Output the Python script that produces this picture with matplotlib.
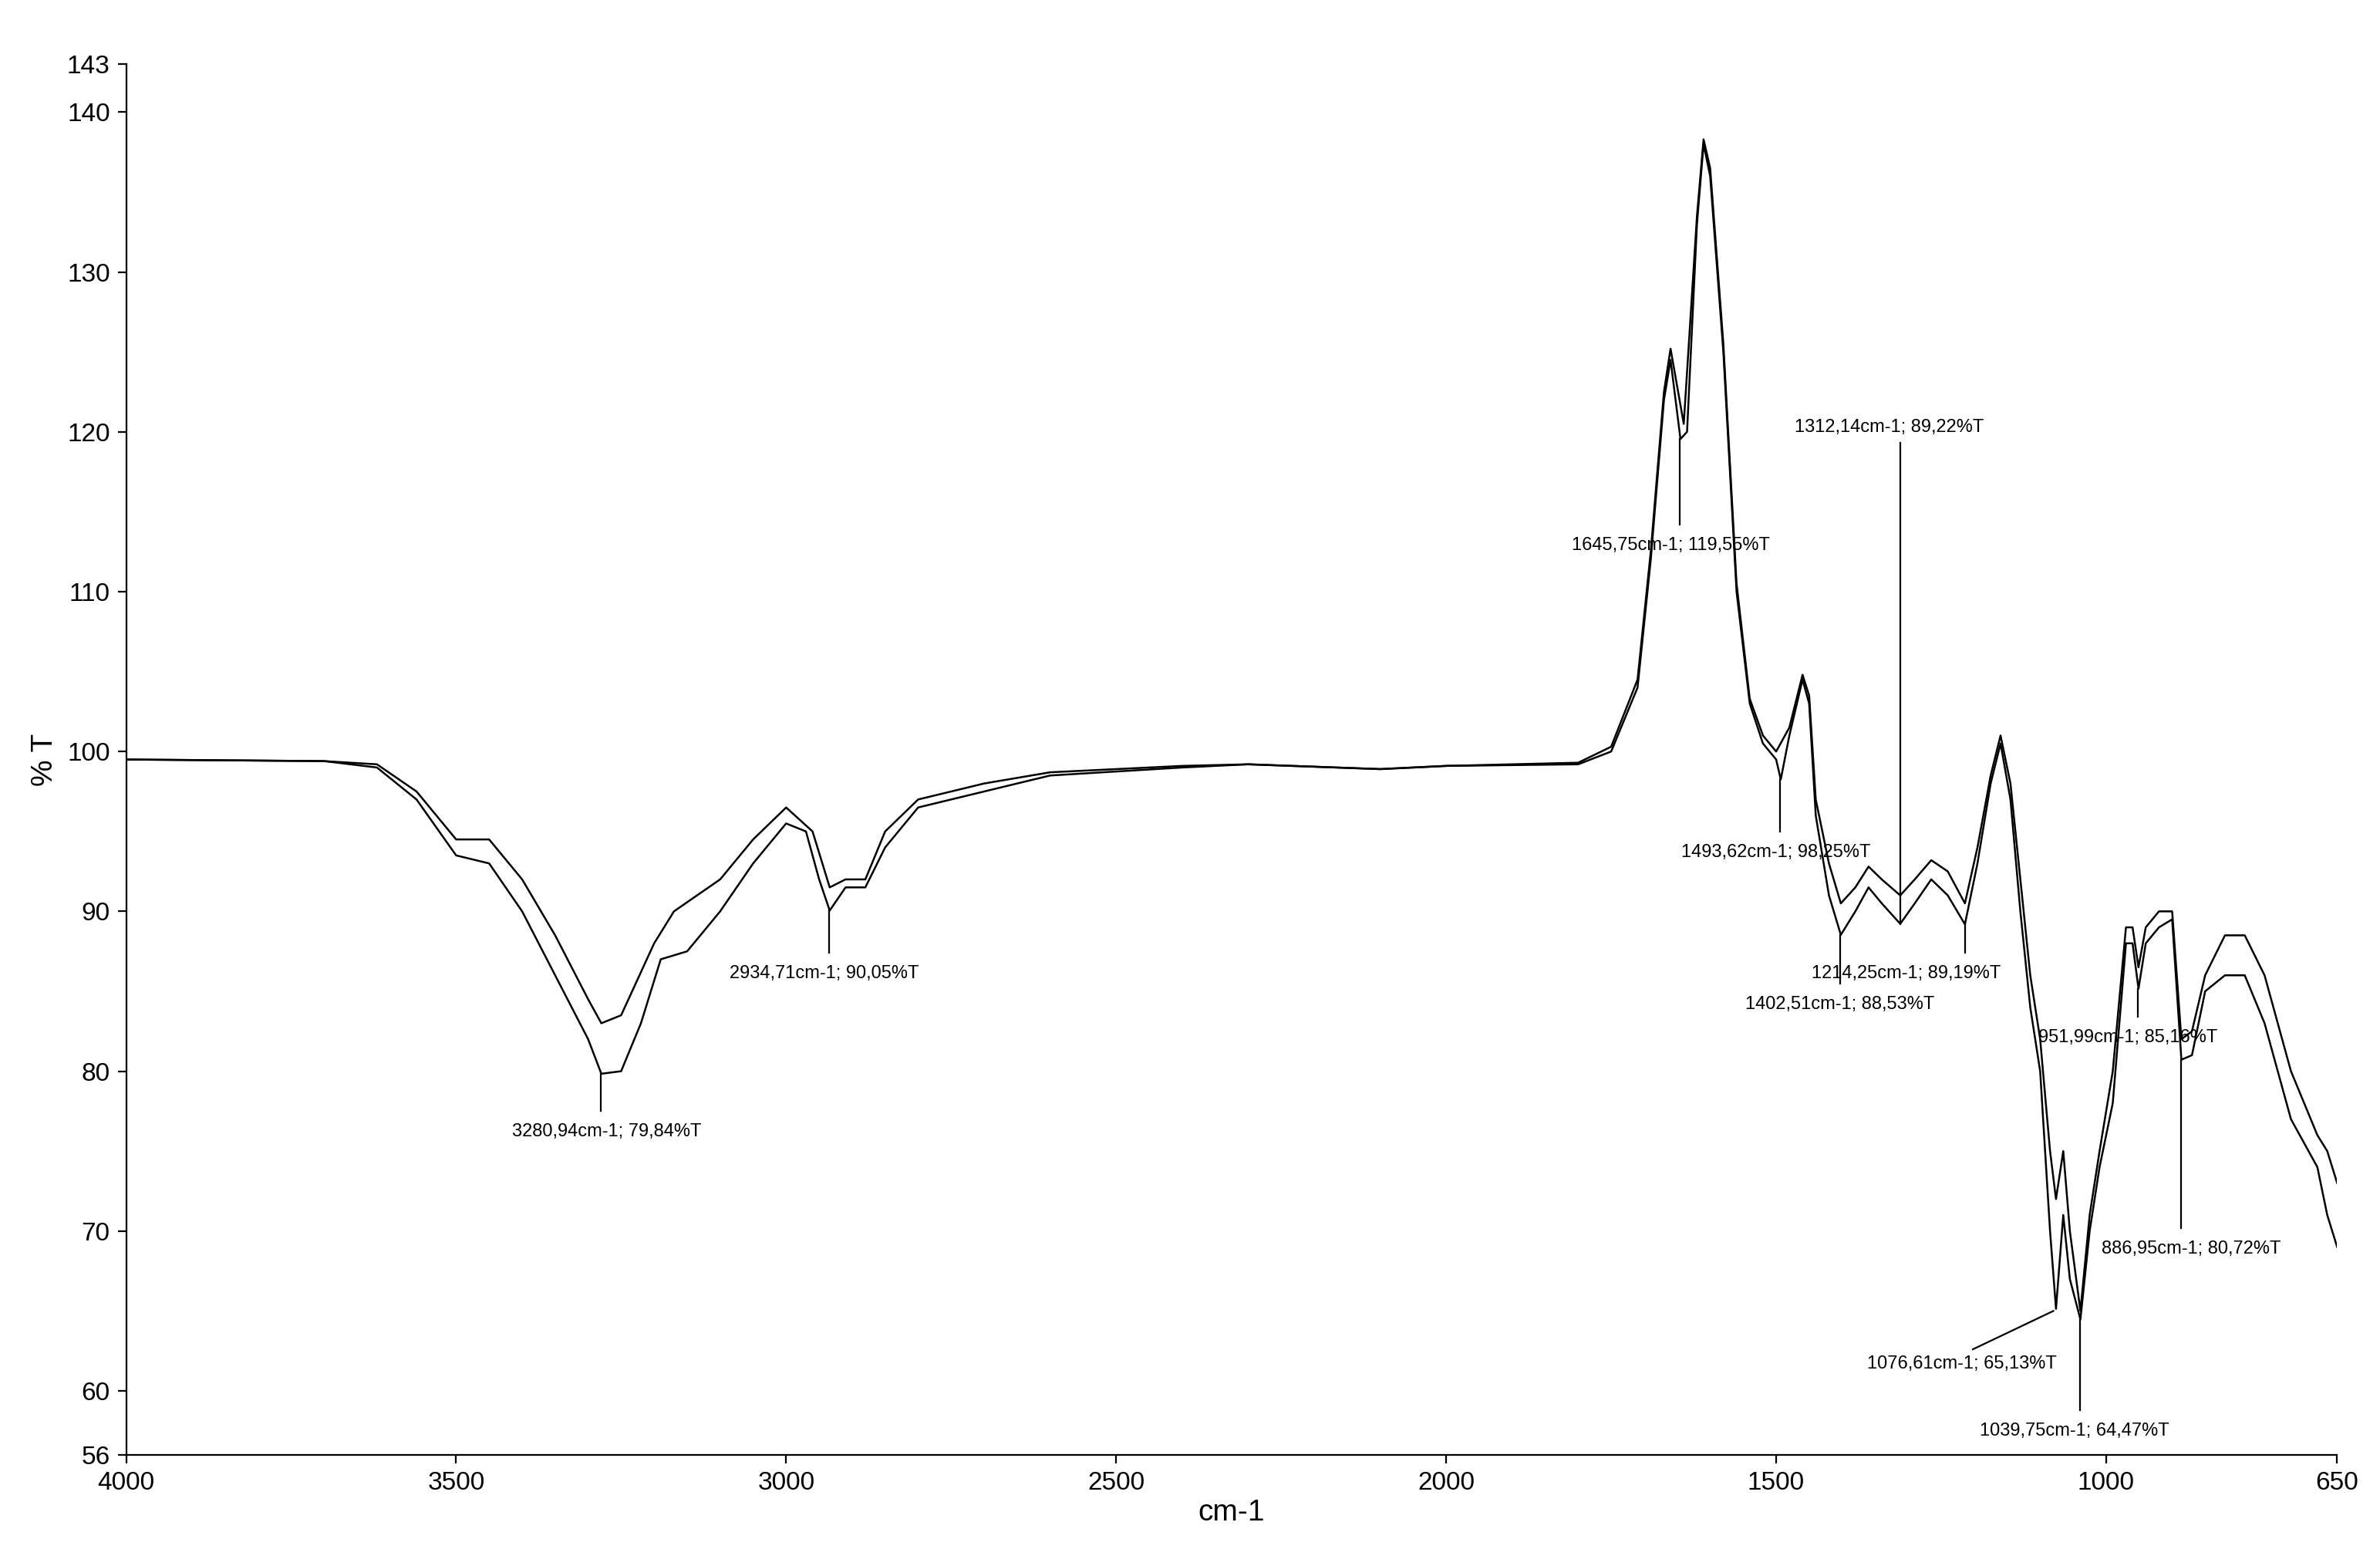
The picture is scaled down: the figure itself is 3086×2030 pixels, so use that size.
import matplotlib
matplotlib.use("Agg")
import matplotlib.pyplot as plt
import numpy as np

plt.rcParams['font.family'] = ['Liberation Sans Narrow', 'Liberation Sans', 'DejaVu Sans']

wn_a = [4000,3700,3620,3560,3500,3450,3400,3350,3300,3280,3250,3220,3190,3150,3100,3050,3000,2970,2950,2934,2910,2880,2850,2800,2700,2600,2400,2300,2100,2000,1800,1750,1710,1690,1670,1660,1645,1635,1620,1610,1600,1580,1560,1540,1520,1500,1493,1480,1460,1450,1440,1420,1402,1380,1360,1340,1312,1290,1265,1240,1214,1195,1175,1160,1145,1130,1115,1100,1085,1076,1065,1055,1039,1025,1010,990,970,960,951,940,920,900,886,870,850,820,790,760,740,720,700,680,665,650]
t_a = [99.5,99.4,99,97,93.5,93,90,86,82,79.84,80,83,87,87.5,90,93,95.5,95,92,90.05,91.5,91.5,94,96.5,97.5,98.5,99,99.2,98.9,99.1,99.2,100,104,112,122,124.5,119.55,120,133,138,136,125,110,103,100.5,99.5,98.25,101,104.5,103,96,91,88.53,90,91.5,90.5,89.22,90.5,92,91,89.19,93,98,100.5,97,90,84,80,70,65.13,71,67,64.47,70,74,78,88,88,85.16,88,89,89.5,80.72,81,85,86,86,83,80,77,75.5,74,71,69]

wn_b = [4000,3700,3620,3560,3500,3450,3400,3350,3300,3280,3250,3200,3170,3100,3050,3000,2960,2934,2910,2880,2850,2800,2700,2600,2400,2300,2100,2000,1800,1750,1710,1690,1670,1660,1640,1620,1610,1600,1580,1560,1540,1520,1500,1480,1460,1450,1440,1420,1402,1380,1360,1340,1312,1290,1265,1240,1214,1195,1175,1160,1145,1130,1115,1100,1085,1076,1065,1055,1039,1025,1010,990,970,960,951,940,920,900,886,870,850,820,790,760,740,720,700,680,665,650]
t_b = [99.5,99.4,99.2,97.5,94.5,94.5,92,88.5,84.5,83,83.5,88,90,92,94.5,96.5,95,91.5,92,92,95,97,98,98.7,99.1,99.2,98.9,99.1,99.3,100.3,104.5,112.5,122.5,125.2,120.5,133.5,138.3,136.5,125.5,110.5,103.3,101,100,101.5,104.8,103.5,97,93,90.5,91.5,92.8,92,91,92,93.2,92.5,90.5,94,98.5,101,98,92,86,82,75,72,75,70,65,71,75,80,89,89,86.5,89,90,90,82,82.5,86,88.5,88.5,86,83,80,78,76,75,73]

labels = [
    (3280.94, 79.84, 3272, 76.2, 77.5, "3280,94cm-1; 79,84%T"),
    (2934.71, 90.05, 2942, 86.1, 87.4, "2934,71cm-1; 90,05%T"),
    (1645.75, 119.55, 1660, 112.9, 114.2, "1645,75cm-1; 119,55%T"),
    (1312.14, 89.22, 1329, 120.3, 119.3, "1312,14cm-1; 89,22%T"),
    (1493.62, 98.25, 1500, 93.7, 95.0, "1493,62cm-1; 98,25%T"),
    (1402.51, 88.53, 1404, 84.2, 85.5, "1402,51cm-1; 88,53%T"),
    (1214.25, 89.19, 1303, 86.1, 87.4, "1214,25cm-1; 89,19%T"),
    (951.99, 85.16, 967, 82.1, 83.4, "951,99cm-1; 85,16%T"),
    (886.95, 80.72, 871, 68.9, 70.2, "886,95cm-1; 80,72%T"),
    (1039.75, 64.47, 1048, 57.5, 58.8, "1039,75cm-1; 64,47%T"),
]

fig = plt.figure(figsize=(15.43, 10.15), dpi=200)
ax = fig.add_axes([0.053, 0.071, 0.929, 0.888])
ax.plot(wn_a, t_a, color='black', lw=0.9)
ax.plot(wn_b, t_b, color='black', lw=0.9)
for x, y, tx, ty, ly, s in labels:
    ax.plot([x, x], [y, ly], color='black', lw=0.8)
    ax.text(tx, ty, s, ha='center', va='center', fontsize=8.5)
# slanted label for 1076
ax.plot([1202, 1080], [62.6, 65.0], color='black', lw=0.8)
ax.text(1218, 61.7, "1076,61cm-1; 65,13%T", ha='center', va='center', fontsize=8.5)

ax.set_xlim(4000, 650)
ax.set_ylim(56, 143)
ax.set_xticks([4000,3500,3000,2500,2000,1500,1000,650])
ax.set_yticks([56,60,70,80,90,100,110,120,130,140,143])
ax.tick_params(labelsize=12, length=4)
for s in ['top', 'right']:
    ax.spines[s].set_visible(False)
ax.set_xlabel("cm-1", fontsize=14, labelpad=2)
ax.set_ylabel("% T", fontsize=14)
fig.savefig("out.png", dpi=200)
